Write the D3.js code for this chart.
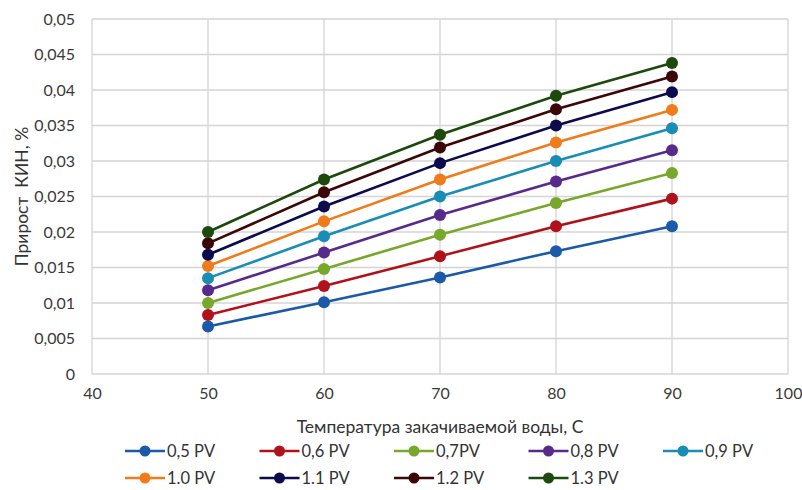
<!DOCTYPE html>
<html>
<head>
<meta charset="utf-8">
<script src="https://cdn.jsdelivr.net/npm/d3@7.9.0/dist/d3.min.js"></script>
<style>
  body { margin: 0; background: #fff; }
  svg { display: block; font-family: Lato, "Open Sans", sans-serif; }
</style>
</head>
<body>
<svg id="chart"></svg>
<script>
const width = 802;
const height = 490;

// data
const temps = [50, 60, 70, 80, 90];
const seriesNames = ["0,5 PV", "0,6 PV", "0,7PV", "0,8 PV", "0,9 PV", "1.0 PV", "1.1 PV", "1.2 PV", "1.3 PV"];
const pv05 = [0.0067, 0.0101, 0.0136, 0.0173, 0.0208];
const pv06 = [0.0083, 0.0124, 0.0166, 0.0208, 0.0247];
const pv07 = [0.0100, 0.0148, 0.0196, 0.0241, 0.0283];
const pv08 = [0.0118, 0.0171, 0.0224, 0.0271, 0.0315];
const pv09 = [0.0135, 0.0194, 0.0250, 0.0300, 0.0346];
const pv10 = [0.0152, 0.0215, 0.0274, 0.0326, 0.0372];
const pv11 = [0.0168, 0.0236, 0.0297, 0.0350, 0.0397];
const pv12 = [0.0184, 0.0256, 0.0319, 0.0373, 0.0419];
const pv13 = [0.0200, 0.0274, 0.0337, 0.0392, 0.0438];
const allValues = [pv05, pv06, pv07, pv08, pv09, pv10, pv11, pv12, pv13];
const colors = ["#1a5aa8", "#b0121b", "#78a82b", "#582a8c", "#1a8db5", "#f07b1a", "#0c0b4d", "#3b0708", "#1c4a0c"];
const xTicks = [40, 50, 60, 70, 80, 90, 100];
const yTicks = [0, 0.005, 0.01, 0.015, 0.02, 0.025, 0.03, 0.035, 0.04, 0.045, 0.05];

const series = seriesNames.map((name, i) => ({
    name: name,
    color: colors[i],
    points: temps.map((t, j) => ({ x: t, y: allValues[i][j] }))
}));

const margin = { top: 19, right: 14, bottom: 116, left: 92 };

const svg = d3.select("#chart").attr("width", width).attr("height", height);

const x = d3.scaleLinear().domain([40, 100]).range([margin.left, width - margin.right]);
const y = d3.scaleLinear().domain([0, 0.05]).range([height - margin.bottom, margin.top]);

const fmt = d => String(d).replace(".", ",");

// gridlines
svg.append("g")
    .selectAll("line.h")
    .data(yTicks)
    .join("line")
    .attr("x1", x(40)).attr("x2", x(100))
    .attr("y1", d => y(d)).attr("y2", d => y(d))
    .attr("stroke", "#d4d4d4").attr("stroke-width", 1.3);

svg.append("g")
    .selectAll("line.v")
    .data(xTicks)
    .join("line")
    .attr("x1", d => x(d)).attr("x2", d => x(d))
    .attr("y1", y(0)).attr("y2", y(0.05))
    .attr("stroke", "#d4d4d4").attr("stroke-width", 1.3);

// axes (labels only, Excel style)
const yAxis = svg.append("g")
    .attr("transform", `translate(${margin.left},0)`)
    .call(d3.axisLeft(y).tickValues(yTicks).tickFormat(fmt).tickSize(0).tickPadding(17));
yAxis.select(".domain").remove();
yAxis.selectAll("text").attr("font-size", 16).attr("fill", "#3a3a3a").attr("font-family", "Lato, sans-serif");

const xAxis = svg.append("g")
    .attr("transform", `translate(0,${y(0)})`)
    .call(d3.axisBottom(x).tickValues(xTicks).tickFormat(d => d).tickSize(0).tickPadding(14));
xAxis.select(".domain").remove();
xAxis.selectAll("text").attr("font-size", 16).attr("fill", "#3a3a3a").attr("font-family", "Lato, sans-serif");

// axis titles
svg.append("text")
    .attr("x", (x(40) + x(100)) / 2)
    .attr("y", 433)
    .attr("text-anchor", "middle")
    .attr("font-size", 17.5)
    .attr("fill", "#333")
    .text("Температура закачиваемой воды, С");

svg.append("text")
    .attr("transform", `translate(28,${(y(0) + y(0.05)) / 2}) rotate(-90)`)
    .attr("text-anchor", "middle")
    .attr("font-size", 17.5)
    .attr("fill", "#333")
    .style("white-space", "pre")
    .text("Прирост  КИН, %");

// lines and markers
const line = d3.line().x(d => x(d.x)).y(d => y(d.y));

const sg = svg.append("g")
    .selectAll("g.series")
    .data(series)
    .join("g");

sg.append("path")
    .attr("d", d => line(d.points))
    .attr("fill", "none")
    .attr("stroke", d => d.color)
    .attr("stroke-width", 2.6);

sg.selectAll("circle")
    .data(d => d.points.map(p => ({ ...p, color: d.color })))
    .join("circle")
    .attr("cx", d => x(d.x))
    .attr("cy", d => y(d.y))
    .attr("r", 6)
    .attr("fill", d => d.color);

// legend
const legend = svg.append("g");
const item = legend.selectAll("g")
    .data(series)
    .join("g")
    .attr("transform", (d, i) => `translate(${125 + (i % 5) * 134.5},${i < 5 ? 451 : 478})`);

item.append("line")
    .attr("x1", 0).attr("x2", 40)
    .attr("stroke", d => d.color).attr("stroke-width", 2.6);
item.append("circle")
    .attr("cx", 20).attr("r", 5.5)
    .attr("fill", d => d.color);
item.append("text")
    .attr("x", 42).attr("y", 6)
    .attr("font-size", 16.5)
    .attr("fill", "#333")
    .text(d => d.name);
</script>
</body>
</html>
